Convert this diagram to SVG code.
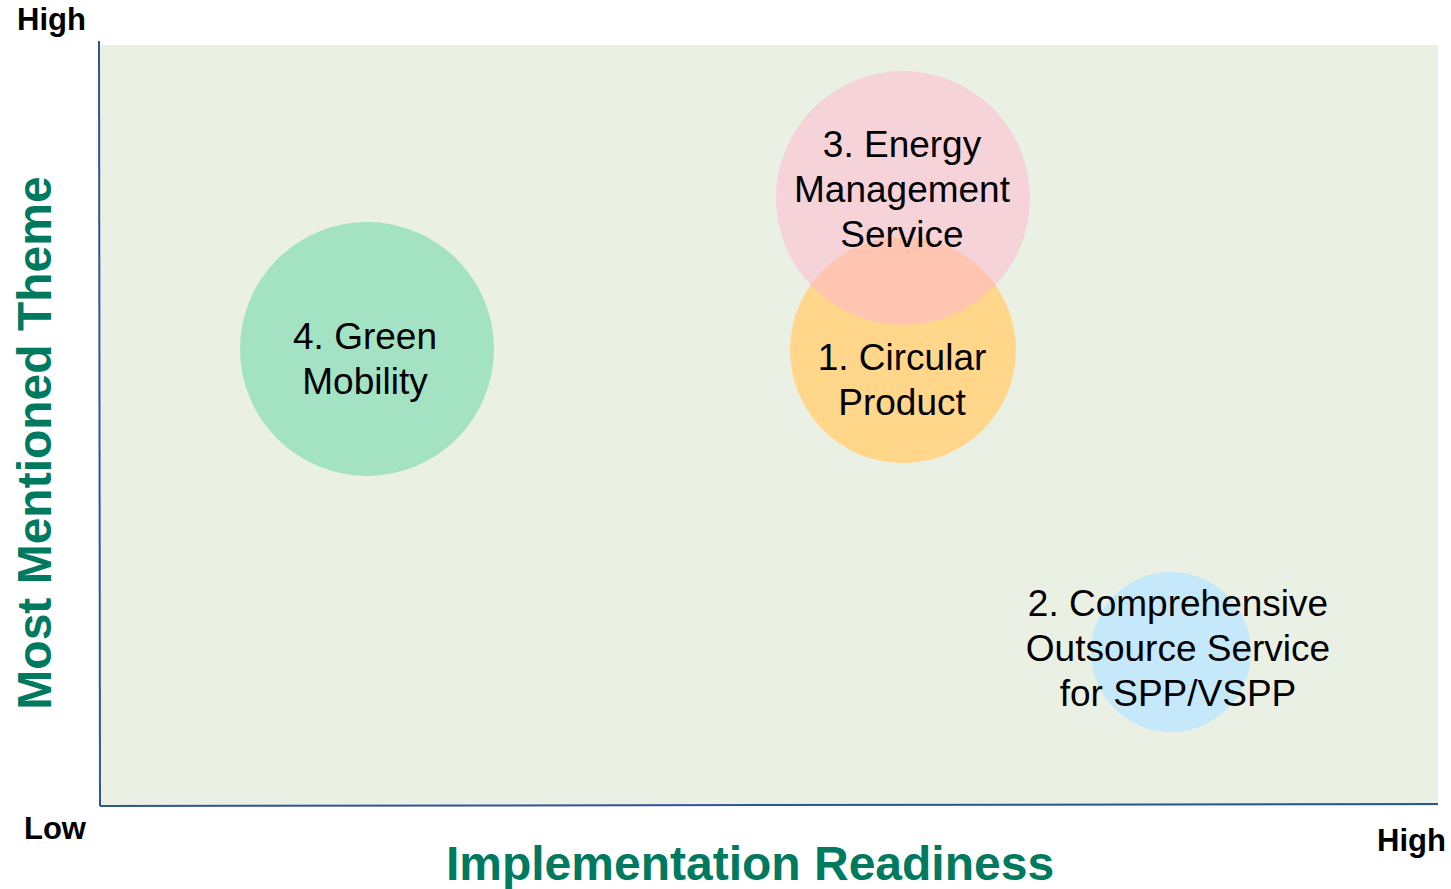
<svg xmlns="http://www.w3.org/2000/svg" width="1451" height="889" viewBox="0 0 1451 889">
<style>
.lbl{font-family:"Liberation Sans",Arial,sans-serif;font-size:37px;fill:#000;text-anchor:middle}
.ax{font-family:"Liberation Sans",Arial,sans-serif;font-size:31px;font-weight:bold;fill:#000}
.title{font-family:"Liberation Sans",Arial,sans-serif;font-size:48px;font-weight:bold;fill:#007A5E;text-anchor:middle}
</style>
<rect width="1451" height="889" fill="#FFFFFF"/>
<g id="plot">
<rect x="100" y="45" width="1338" height="761" fill="#EAF1E4"/>
</g>
<g id="axes" stroke="#2F5597" stroke-width="2" fill="none">
<line x1="99" y1="41" x2="100" y2="806"/>
<line x1="100" y1="806" x2="1438" y2="804"/>
</g>
<g id="node-green">
<circle cx="367" cy="349" r="127" fill="#A3E2C2"/>
<text class="lbl" x="365" y="349">4. Green</text>
<text class="lbl" x="365" y="394">Mobility</text>
</g>
<g id="node-circular">
<circle cx="903" cy="350" r="113" fill="#FFD68A"/>
</g>
<g id="node-energy">
<circle cx="903" cy="198" r="127" fill="#FFB8CF" fill-opacity="0.55"/>
<text class="lbl" x="902" y="157">3. Energy</text>
<text class="lbl" x="902" y="202">Management</text>
<text class="lbl" x="902" y="247">Service</text>
</g>
<g id="node-circular-text">
<text class="lbl" x="902" y="370">1. Circular</text>
<text class="lbl" x="902" y="415">Product</text>
</g>
<g id="node-outsource">
<circle cx="1171" cy="652" r="80" fill="#C5E8FB"/>
<text class="lbl" x="1178" y="616">2. Comprehensive</text>
<text class="lbl" x="1178" y="661">Outsource Service</text>
<text class="lbl" x="1178" y="706">for SPP/VSPP</text>
</g>
<g id="axis-labels">
<text class="ax" x="17" y="30">High</text>
<text class="ax" x="24" y="839">Low</text>
<text class="ax" x="1377" y="851">High</text>
<text class="title" x="750" y="880">Implementation Readiness</text>
<text class="title" transform="translate(51,443) rotate(-90)">Most Mentioned Theme</text>
</g>
</svg>
